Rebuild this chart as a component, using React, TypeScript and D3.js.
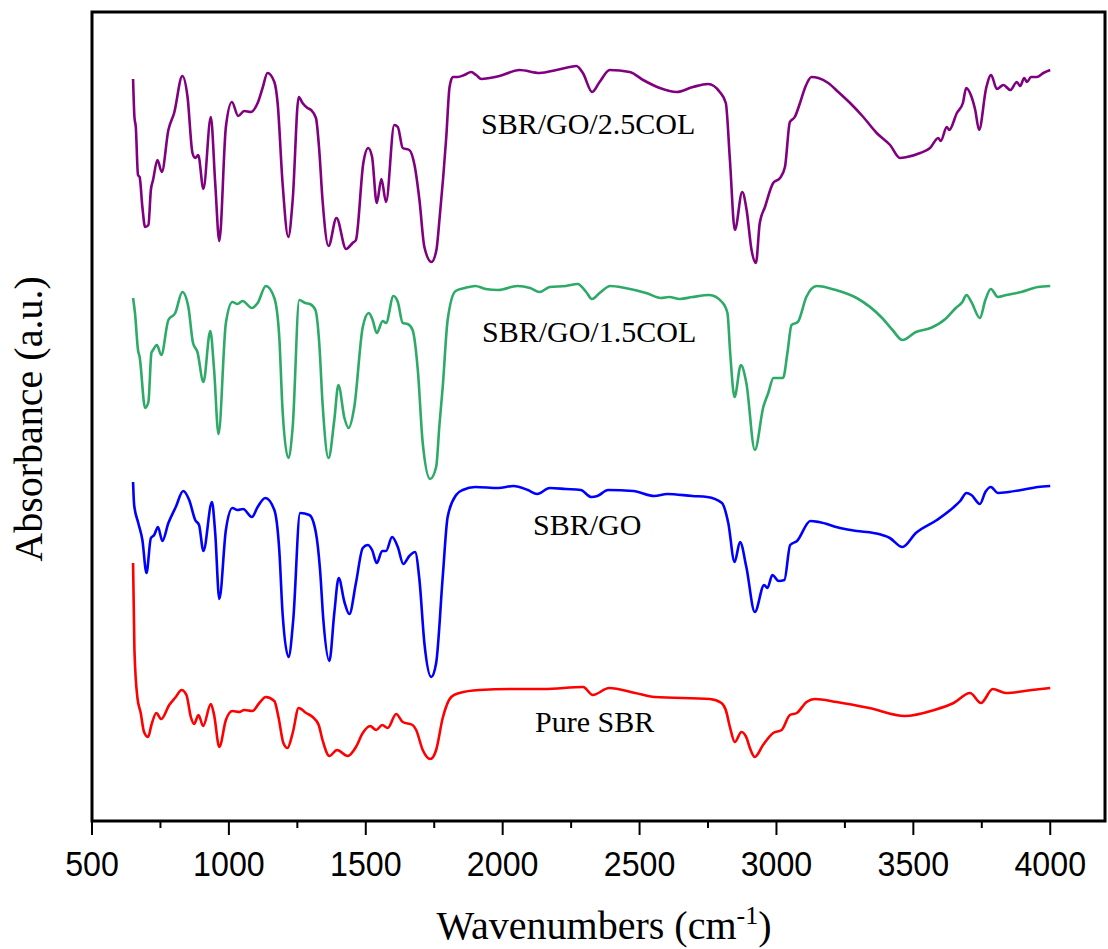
import React from 'react';
import * as d3 from 'd3';

// FTIR spectra, [wavenumber (cm-1), absorbance (a.u., offset per sample)]
const pureSBR: [number, number][] = [
    [650, 2.57], [655, 1.70], [666, 1.22], [678, 1.07], [690, 0.88], [705, 0.83], [717, 0.95], [735, 1.07],
    [753, 1.01], [782, 1.15], [806, 1.23], [827, 1.30], [845, 1.25], [861, 1.03], [873, 0.96], [889, 1.05],
    [906, 0.94], [934, 1.16], [946, 1.05], [965, 0.73], [989, 1.00], [1013, 1.09], [1038, 1.08], [1056, 1.10],
    [1086, 1.09], [1111, 1.17], [1135, 1.23], [1166, 1.19], [1181, 1.03], [1199, 0.77], [1214, 0.72], [1233, 0.87],
    [1255, 1.12], [1282, 1.07], [1306, 1.03], [1328, 0.95], [1342, 0.80], [1367, 0.64], [1395, 0.70], [1434, 0.64],
    [1464, 0.73], [1489, 0.87], [1516, 0.94], [1538, 0.90], [1560, 0.95], [1580, 0.92], [1611, 1.06], [1635, 0.98],
    [1671, 0.95], [1684, 0.90], [1708, 0.70], [1736, 0.61], [1757, 0.70], [1781, 1.02], [1812, 1.23], [1842, 1.27],
    [1914, 1.30], [2033, 1.31], [2151, 1.31], [2294, 1.33], [2329, 1.25], [2389, 1.32], [2484, 1.27], [2555, 1.23],
    [2757, 1.21], [2799, 1.17], [2815, 1.10], [2830, 0.93], [2848, 0.78], [2872, 0.88], [2891, 0.82], [2903, 0.72],
    [2921, 0.63], [2951, 0.75], [2988, 0.87], [3019, 0.90], [3049, 1.05], [3074, 1.07], [3110, 1.18], [3140, 1.21],
    [3220, 1.18], [3339, 1.12], [3469, 1.04], [3576, 1.10], [3647, 1.17], [3707, 1.27], [3747, 1.17], [3790, 1.31],
    [3838, 1.27], [3933, 1.30], [4000, 1.32],
];

const sbrGO: [number, number][] = [
    [650, 3.38], [654, 3.15], [669, 2.97], [684, 2.80], [699, 2.47], [715, 2.82], [727, 2.85], [741, 2.93],
    [757, 2.79], [779, 2.97], [806, 3.13], [833, 3.29], [855, 3.20], [877, 3.00], [891, 2.95], [907, 2.69],
    [938, 3.18], [950, 2.87], [965, 2.21], [989, 2.90], [1013, 3.12], [1031, 3.10], [1052, 3.11], [1084, 3.03],
    [1105, 3.13], [1133, 3.22], [1166, 3.10], [1184, 2.70], [1196, 2.07], [1218, 1.63], [1235, 2.00], [1260, 3.07],
    [1294, 3.05], [1318, 2.87], [1333, 2.50], [1345, 2.00], [1367, 1.59], [1385, 2.07], [1401, 2.42], [1422, 2.18],
    [1440, 2.06], [1464, 2.37], [1489, 2.72], [1507, 2.75], [1523, 2.70], [1540, 2.57], [1560, 2.69], [1574, 2.69],
    [1596, 2.83], [1617, 2.73], [1637, 2.56], [1659, 2.64], [1680, 2.68], [1696, 2.40], [1714, 1.77], [1739, 1.43],
    [1757, 1.57], [1781, 2.43], [1799, 3.03], [1830, 3.25], [1854, 3.30], [1900, 3.33], [1984, 3.32], [2039, 3.34],
    [2092, 3.30], [2126, 3.26], [2172, 3.32], [2231, 3.31], [2285, 3.30], [2324, 3.23], [2346, 3.24], [2385, 3.30],
    [2477, 3.29], [2554, 3.24], [2601, 3.26], [2693, 3.24], [2747, 3.23], [2801, 3.17], [2824, 2.97], [2847, 2.58],
    [2867, 2.78], [2890, 2.53], [2921, 2.08], [2955, 2.35], [2967, 2.32], [2985, 2.45], [3008, 2.39], [3029, 2.40],
    [3050, 2.75], [3075, 2.79], [3124, 2.99], [3155, 2.98], [3232, 2.92], [3293, 2.89], [3355, 2.87], [3414, 2.82],
    [3460, 2.73], [3509, 2.87], [3586, 3.00], [3648, 3.13], [3671, 3.19], [3694, 3.27], [3712, 3.25], [3743, 3.16],
    [3763, 3.28], [3783, 3.33], [3809, 3.27], [3848, 3.28], [3894, 3.30], [3955, 3.33], [4000, 3.34],
];

const sbrGO15: [number, number][] = [
    [650, 5.22], [657, 5.07], [668, 4.70], [674, 4.63], [694, 4.12], [706, 4.18], [717, 4.67], [723, 4.70],
    [737, 4.75], [753, 4.65], [779, 5.00], [804, 5.07], [830, 5.28], [852, 5.13], [869, 4.77], [885, 4.68],
    [907, 4.38], [932, 4.89], [946, 4.50], [962, 3.86], [989, 4.97], [1013, 5.18], [1031, 5.16], [1050, 5.19],
    [1084, 5.12], [1105, 5.17], [1135, 5.34], [1166, 5.22], [1184, 4.83], [1196, 4.10], [1217, 3.62], [1233, 3.93],
    [1257, 5.20], [1279, 5.17], [1296, 5.16], [1316, 5.10], [1330, 4.77], [1342, 4.17], [1364, 3.62], [1385, 4.00],
    [1400, 4.35], [1422, 4.02], [1437, 3.92], [1458, 4.13], [1489, 4.93], [1511, 5.07], [1525, 5.00], [1540, 4.87],
    [1562, 4.99], [1574, 4.97], [1601, 5.24], [1617, 5.18], [1635, 4.97], [1653, 4.96], [1671, 4.90], [1690, 4.50],
    [1708, 3.77], [1735, 3.41], [1757, 3.53], [1769, 3.95], [1781, 4.33], [1799, 5.00], [1828, 5.29], [1862, 5.32],
    [1900, 5.34], [1938, 5.31], [1984, 5.30], [2054, 5.34], [2100, 5.32], [2135, 5.28], [2172, 5.33], [2231, 5.34],
    [2274, 5.36], [2305, 5.28], [2326, 5.21], [2354, 5.27], [2393, 5.34], [2447, 5.32], [2524, 5.27], [2578, 5.22],
    [2608, 5.23], [2647, 5.21], [2693, 5.23], [2755, 5.25], [2801, 5.18], [2821, 5.07], [2831, 4.67], [2847, 4.23],
    [2870, 4.55], [2890, 4.37], [2921, 3.70], [2952, 4.13], [2970, 4.27], [2989, 4.42], [3024, 4.42], [3040, 4.67],
    [3055, 4.95], [3078, 4.98], [3109, 5.23], [3147, 5.34], [3217, 5.30], [3293, 5.22], [3386, 5.02], [3424, 4.90],
    [3460, 4.80], [3509, 4.88], [3563, 4.92], [3617, 5.01], [3655, 5.12], [3679, 5.18], [3694, 5.25], [3712, 5.18],
    [3743, 5.02], [3763, 5.20], [3783, 5.31], [3809, 5.23], [3840, 5.25], [3894, 5.28], [3955, 5.33], [4000, 5.34],
];

const sbrGO25: [number, number][] = [
    [650, 7.41], [655, 7.03], [660, 6.93], [668, 6.45], [674, 6.43], [684, 6.13], [694, 5.93], [706, 5.95],
    [715, 6.30], [723, 6.40], [739, 6.60], [755, 6.48], [779, 6.90], [800, 7.07], [830, 7.44], [849, 7.23],
    [867, 6.67], [877, 6.62], [888, 6.65], [907, 6.31], [934, 7.03], [950, 6.37], [965, 5.79], [989, 6.93],
    [1011, 7.18], [1034, 7.04], [1056, 7.09], [1080, 7.08], [1105, 7.17], [1123, 7.32], [1141, 7.47], [1166, 7.38],
    [1178, 7.17], [1196, 6.37], [1217, 5.83], [1233, 6.20], [1255, 7.23], [1269, 7.17], [1287, 7.12], [1300, 7.10],
    [1318, 7.02], [1330, 6.70], [1342, 6.20], [1364, 5.74], [1393, 6.02], [1428, 5.71], [1452, 5.77], [1464, 5.80],
    [1491, 6.57], [1509, 6.72], [1523, 6.63], [1540, 6.17], [1557, 6.41], [1574, 6.18], [1604, 6.95], [1617, 6.93],
    [1635, 6.72], [1659, 6.70], [1678, 6.55], [1696, 6.20], [1714, 5.73], [1740, 5.58], [1758, 5.70], [1769, 6.00],
    [1794, 6.83], [1806, 7.33], [1818, 7.43], [1836, 7.43], [1860, 7.45], [1885, 7.48], [1903, 7.45], [1922, 7.41],
    [1952, 7.42], [1988, 7.44], [2062, 7.50], [2135, 7.47], [2196, 7.50], [2244, 7.53], [2269, 7.54], [2293, 7.47],
    [2327, 7.28], [2354, 7.38], [2391, 7.50], [2464, 7.48], [2513, 7.40], [2574, 7.32], [2635, 7.28], [2695, 7.33],
    [2750, 7.36], [2793, 7.28], [2815, 7.17], [2830, 6.60], [2848, 5.90], [2875, 6.28], [2891, 6.10], [2909, 5.70],
    [2925, 5.57], [2939, 5.97], [2958, 6.13], [2988, 6.37], [3013, 6.42], [3031, 6.53], [3049, 6.98], [3067, 7.03],
    [3086, 7.17], [3104, 7.32], [3128, 7.43], [3153, 7.42], [3189, 7.37], [3226, 7.28], [3269, 7.17], [3317, 7.03],
    [3366, 6.87], [3415, 6.75], [3451, 6.62], [3476, 6.63], [3525, 6.67], [3561, 6.72], [3591, 6.82], [3600, 6.79],
    [3622, 6.93], [3631, 6.90], [3659, 7.07], [3681, 7.17], [3693, 7.32], [3710, 7.25], [3726, 7.10], [3740, 6.90],
    [3766, 7.32], [3784, 7.45], [3805, 7.31], [3829, 7.35], [3854, 7.30], [3878, 7.38], [3890, 7.34], [3905, 7.42],
    [3915, 7.38], [3930, 7.43], [3951, 7.43], [3975, 7.47], [4000, 7.50],
];

const series = [
    { name: 'Pure SBR', data: pureSBR, color: '#ff0000', label: [535, 0.88] },
    { name: 'SBR/GO', data: sbrGO, color: '#0000ff', label: [533, 2.85] },
    { name: 'SBR/GO/1.5COL', data: sbrGO15, color: '#2eaa68', label: [482, 4.78] },
    { name: 'SBR/GO/2.5COL', data: sbrGO25, color: '#800080', label: [481, 6.86] },
];

const majorTicks = [500, 1000, 1500, 2000, 2500, 3000, 3500, 4000];
const minorTicks = [750, 1250, 1750, 2250, 2750, 3250, 3750];

const W = 1108;
const H = 949;
const left = 92;
const right = 1105;
const top = 12;
const bottom = 821;

/**
 * FTIR spectra chart.
 */
export default function App() {
    const x = d3.scaleLinear().domain([ 500, 4200 ]).range([ left, right ]);
    const y = d3.scaleLinear().domain([ 0, 8.08 ]).range([ bottom - 1, top ]);

    const line = d3.line<[number, number]>()
        .x(d => x(d[0]))
        .y(d => y(d[1]))
        .curve(d3.curveMonotoneX);

    const serif = '"Liberation Serif", "Times New Roman", serif';
    const sans = '"Liberation Sans", Arial, sans-serif';

    return (
        <svg width={W} height={H} style={{ position: 'absolute', left: 0, top: 0 }}>
            <rect width={W} height={H} fill='#fff' />
            {series.map(s => (
                <path key={s.name} d={line(s.data) || ''} fill='none' stroke={s.color}
                    strokeWidth={2.6} strokeLinejoin='round' />
            ))}
            {series.map(s => (
                <text key={s.name + '-l'} x={s.label[0]} y={y(s.label[1])} fontFamily={serif}
                    fontSize={30} fill='#000'>{s.name}</text>
            ))}
            <rect x={left} y={top} width={right - left} height={bottom - top} fill='none'
                stroke='#000' strokeWidth={3} />
            {majorTicks.map(t => (
                <g key={t}>
                    <line x1={x(t)} x2={x(t)} y1={bottom} y2={bottom + 14} stroke='#000' strokeWidth={2} />
                    <text transform={`translate(${x(t)}, 876) scale(0.92, 1)`} textAnchor='middle'
                        fontFamily={sans} fontSize={35}>{t}</text>
                </g>
            ))}
            {minorTicks.map(t => (
                <line key={t} x1={x(t)} x2={x(t)} y1={bottom} y2={bottom + 7} stroke='#000' strokeWidth={2} />
            ))}
            <text x={604} y={939} textAnchor='middle' fontFamily={serif} fontSize={40}>
                Wavenumbers (cm<tspan dy={-15} fontSize={26}>-1</tspan><tspan dy={15} fontSize={40}>)</tspan>
            </text>
            <text transform='translate(42, 419) rotate(-90)' textAnchor='middle' fontFamily={serif}
                fontSize={40}>Absorbance (a.u.)</text>
        </svg>
    );
}
